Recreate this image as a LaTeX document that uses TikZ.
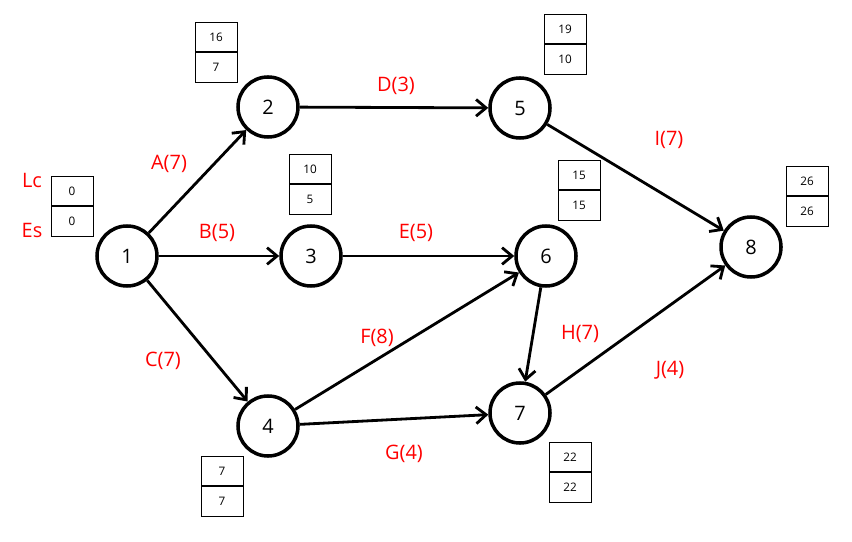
\documentclass[tikz,border=0pt]{standalone}
\usepackage{fontspec}
\setmainfont{Open Sans}
\usetikzlibrary{arrows.meta}
\tikzstyle{event} = [circle, draw, line width=3pt, minimum size=1.8cm, inner sep=0pt, font=\fontsize{17}{20}\selectfont]
\tikzstyle{cell} = [rectangle, draw, line width=0.8pt, minimum width=1.26cm, minimum height=0.89cm, inner sep=0pt, font=\fontsize{10}{12}\selectfont]
\tikzstyle{lbl} = [text=red, font=\fontsize{17}{20}\selectfont]
\tikzstyle{line} = [draw, line width=2.4pt, -{Straight Barb[length=3mm,width=5mm]}]

\begin{document}
\begin{tikzpicture}[x=0.03cm, y=-0.03cm]
  \useasboundingbox (0,0) rectangle (852,542);
    % nodes
    \node [event] (n1) at (127,256) {1};
    \node [event] (n2) at (268,107) {2};
    \node [event] (n3) at (311,256) {3};
    \node [event] (n4) at (268,426) {4};
    \node [event] (n5) at (520,108) {5};
    \node [event] (n6) at (546,256) {6};
    \node [event] (n7) at (520,413) {7};
    \node [event] (n8) at (751,247) {8};

    % time boxes (late / early)
    \foreach \x/\y/\lc/\es/\nm in {72/191/0/0/b1, 216/37/16/7/b2, 310/169/10/5/b3,
        222/471/7/7/b4, 565/29/19/10/b5, 579/175/15/15/b6, 570/457/22/22/b7, 807/181/26/26/b8} {
      \node [cell] (\nm lc) at (\x,\y) {\lc};
      \node [cell, anchor=north] (\nm es) at (\nm lc.south) {\es};
    }

    % edges
    \path [line] (n1) -- (n2);
    \path [line] (n1) -- (n3);
    \path [line] (n1) -- (n4);
    \path [line] (n2) -- (n5);
    \path [line] (n3) -- (n6);
    \path [line] (n4) -- (n6);
    \path [line] (n4) -- (n7);
    \path [line] (n6) -- (n7);
    \path [line] (n5) -- (n8);
    \path [line] (n7) -- (n8);

    % labels
    \node [lbl] (lLc) at (32,180) {Lc};
    \node [lbl] (lEs) at (32,230) {Es};
    \node [lbl] (lA) at (169,164) {A(7)};
    \node [lbl] (lB) at (217,233) {B(5)};
    \node [lbl] (lC) at (163,361) {C(7)};
    \node [lbl] (lD) at (396,86) {D(3)};
    \node [lbl] (lE) at (416,233) {E(5)};
    \node [lbl] (lF) at (377,338) {F(8)};
    \node [lbl] (lG) at (404,454) {G(4)};
    \node [lbl] (lH) at (580,334) {H(7)};
    \node [lbl] (lI) at (669,140) {I(7)};
    \node [lbl] (lJ) at (670,370) {J(4)};
\end{tikzpicture}
\end{document}
